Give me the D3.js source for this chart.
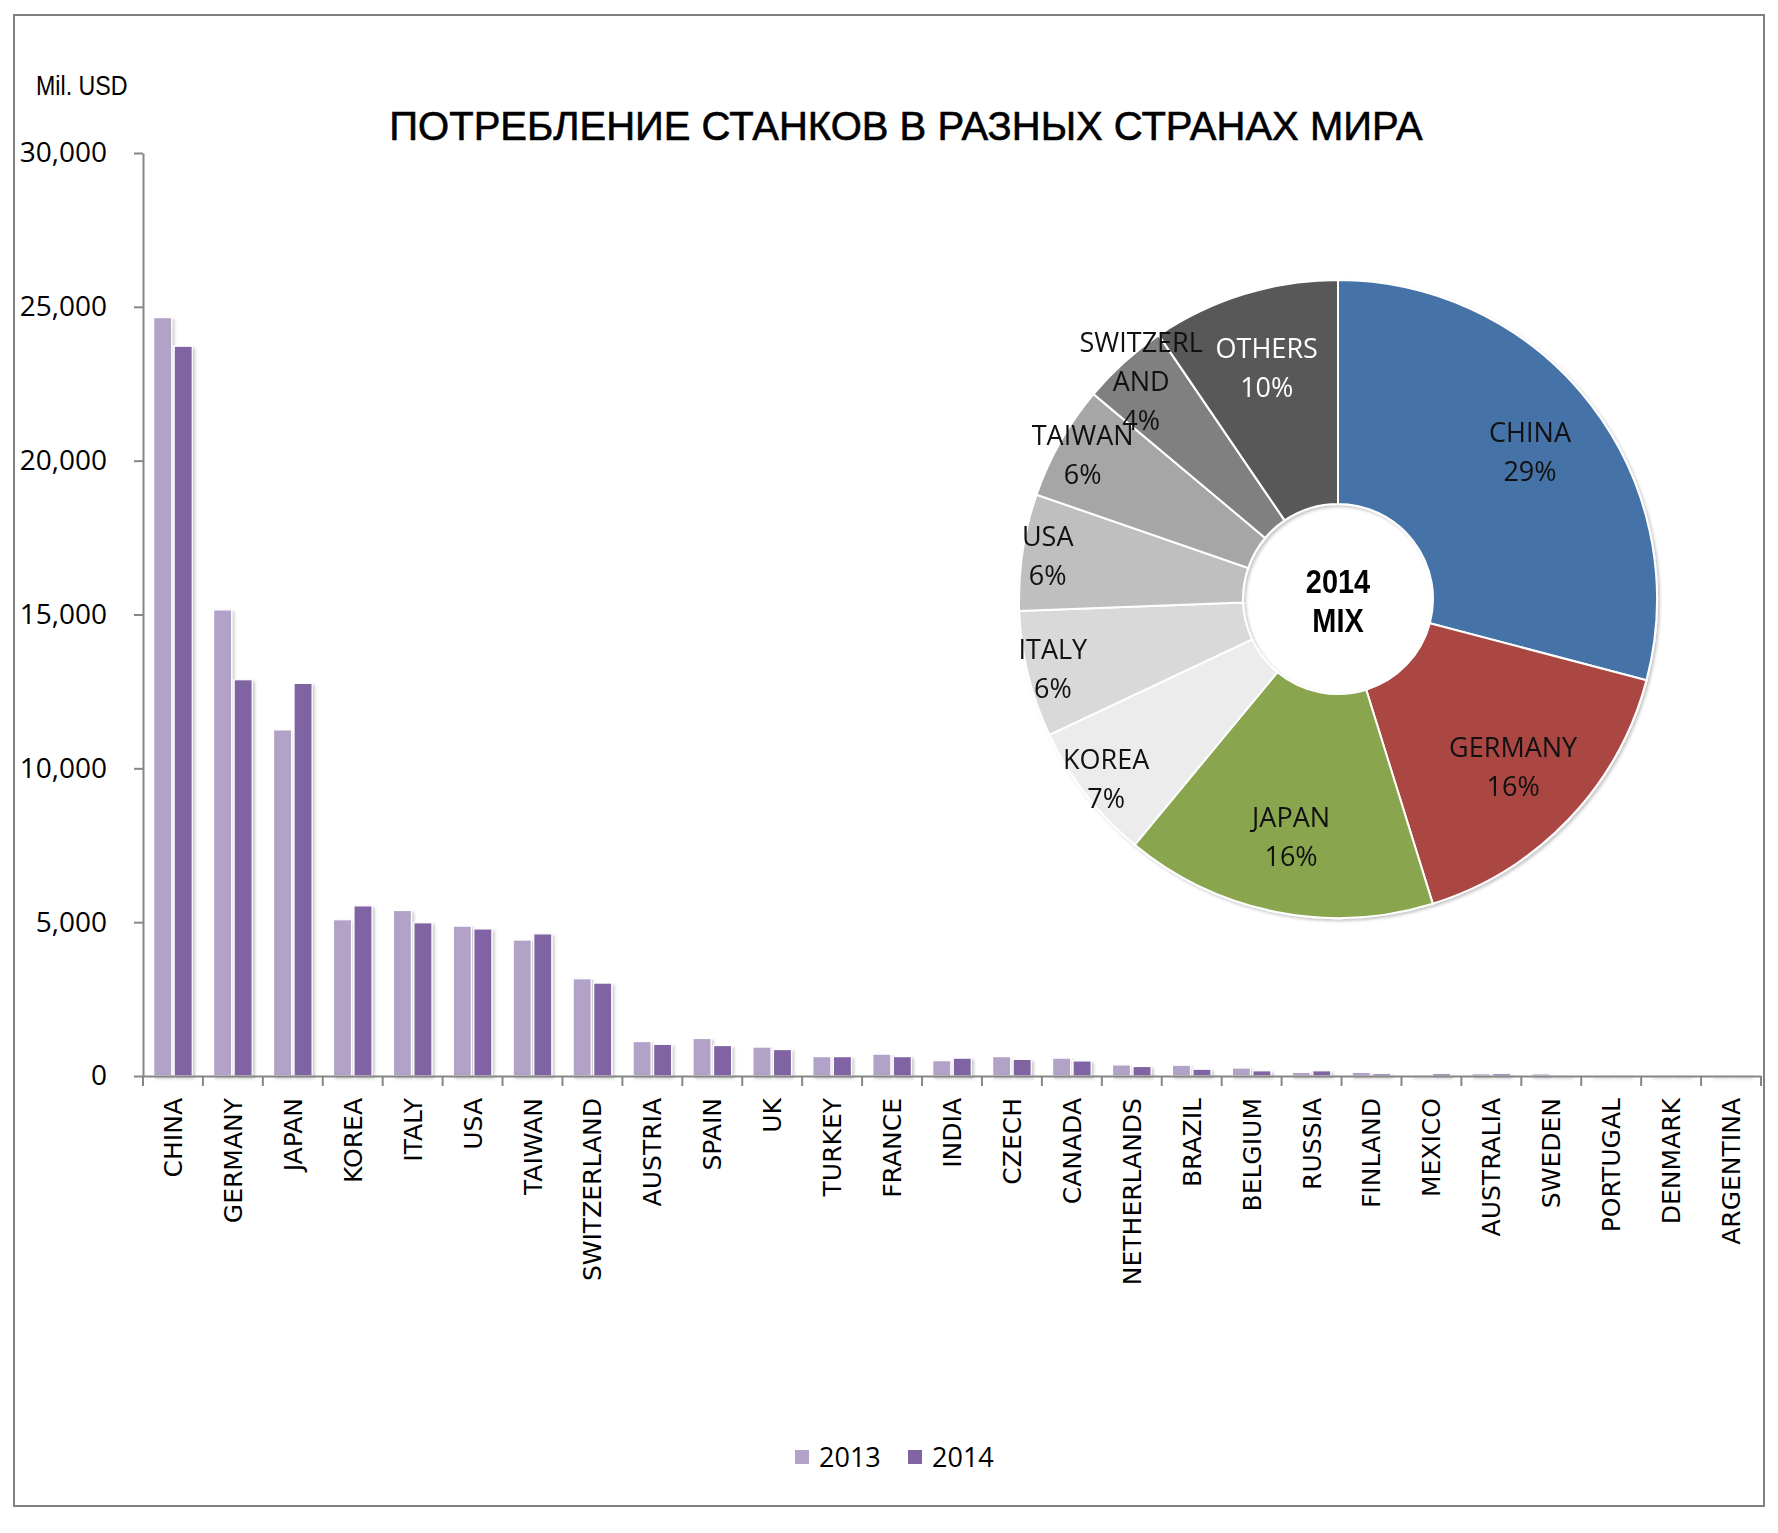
<!DOCTYPE html>
<html lang="ru">
<head>
<meta charset="UTF-8">
<title>Потребление станков в разных странах мира</title>
<script src="https://cdn.jsdelivr.net/npm/d3@7"></script>
<style>
  body { margin: 0; background: #fff; }
  .tick text { fill: #000; }
</style>
</head>
<body>
<div id="chart"></div>
<script>
var countries = ["CHINA", "GERMANY", "JAPAN", "KOREA", "ITALY", "USA", "TAIWAN", "SWITZERLAND",
  "AUSTRIA", "SPAIN", "UK", "TURKEY", "FRANCE", "INDIA", "CZECH", "CANADA", "NETHERLANDS",
  "BRAZIL", "BELGIUM", "RUSSIA", "FINLAND", "MEXICO", "AUSTRALIA", "SWEDEN", "PORTUGAL",
  "DENMARK", "ARGENTINA"];
var values2013 = [24650, 15150, 11250, 5080, 5380, 4870, 4420, 3160,
  1120, 1220, 940, 630, 710, 500, 630, 580, 360,
  350, 260, 120, 120, 15, 75, 70, 10, 5, 5];
var values2014 = [23720, 12880, 12760, 5530, 4980, 4780, 4620, 3020,
  1030, 990, 860, 630, 630, 580, 540, 490, 310,
  220, 170, 170, 75, 75, 75, 15, 5, 5, 5];
var years = ["2013", "2014"];
var yTicks = [0, 5000, 10000, 15000, 20000, 25000, 30000];

var pieNames = ["CHINA", "GERMANY", "JAPAN", "KOREA", "ITALY", "USA", "TAIWAN", "SWITZERLAND", "OTHERS"];
var pieShares = [29.1, 16.1, 15.8, 7.0, 6.4, 5.9, 5.8, 4.4, 9.5];

var width = 1778, height = 1533;
var barColors = {"2013": "#b3a2c7", "2014": "#8064a2"};
var pieColors = ["#4572a7", "#aa4643", "#89a54e", "#ececec", "#d9d9d9", "#bfbfbf", "#a6a6a6", "#808080", "#595959"];

var svg = d3.select("#chart").append("svg")
  .attr("width", width)
  .attr("height", height);

var defs = svg.append("defs");
defs.append("filter").attr("id", "shadow")
  .attr("x", "-20%").attr("y", "-20%").attr("width", "140%").attr("height", "140%")
  .append("feDropShadow")
  .attr("dx", 2).attr("dy", 2).attr("stdDeviation", 1.5)
  .attr("flood-color", "#000").attr("flood-opacity", 0.22);

// outer frame
svg.append("rect")
  .attr("x", 14).attr("y", 15).attr("width", 1750).attr("height", 1491)
  .attr("fill", "none").attr("stroke", "#808080").attr("stroke-width", 2);

var plot = {left: 143, right: 1761, top: 153, bottom: 1076};

var x = d3.scaleBand().domain(countries).range([plot.left, plot.right]);
var x1 = d3.scaleBand().domain(years).range([0, x.bandwidth()])
  .paddingInner(0.12).paddingOuter(0.52);
var y = d3.scaleLinear().domain([0, 30000]).range([plot.bottom, plot.top]);

// bars
var rows = countries.map(function(c, i) {
  return {country: c, values: [{year: "2013", v: values2013[i]}, {year: "2014", v: values2014[i]}]};
});

var groups = svg.append("g").attr("filter", "url(#shadow)")
  .selectAll("g").data(rows).join("g")
  .attr("transform", function(d) { return "translate(" + x(d.country) + ",0)"; });

groups.selectAll("rect").data(function(d) { return d.values; }).join("rect")
  .attr("x", function(d) { return x1(d.year); })
  .attr("y", function(d) { return y(d.v); })
  .attr("width", x1.bandwidth())
  .attr("height", function(d) { return y(0) - y(d.v); })
  .attr("fill", function(d) { return barColors[d.year]; })
  .attr("stroke", "#fff")
  .attr("stroke-width", 1.2);

// y axis
var yAxis = svg.append("g")
  .attr("transform", "translate(" + plot.left + ",0)")
  .call(d3.axisLeft(y).tickValues(yTicks).tickFormat(d3.format(","))
    .tickSize(9).tickSizeOuter(0).tickPadding(27));
yAxis.selectAll("path, line").attr("stroke", "#868686").attr("stroke-width", 2);
yAxis.selectAll("text")
  .style("font-family", "'Open Sans', sans-serif")
  .style("font-size", "28px");

// x axis
var xAxis = svg.append("g")
  .attr("transform", "translate(0," + plot.bottom + ")")
  .call(d3.axisBottom(x).tickSize(0).tickSizeOuter(0));
xAxis.select("path").attr("stroke", "#868686").attr("stroke-width", 2);
xAxis.selectAll("text")
  .attr("transform", "rotate(-90)")
  .attr("x", -22)
  .attr("y", 0)
  .attr("dy", "0.36em")
  .style("text-anchor", "end")
  .style("font-family", "'DejaVu Sans', sans-serif")
  .style("font-size", "25px");

// category boundary ticks
var bounds = countries.map(function(c) { return x(c); }).concat([plot.right]);
svg.append("g").selectAll("line").data(bounds).join("line")
  .attr("x1", function(d) { return d; }).attr("x2", function(d) { return d; })
  .attr("y1", plot.bottom).attr("y2", plot.bottom + 10)
  .attr("stroke", "#868686").attr("stroke-width", 2);

// unit label and title (narrow font imitated with a horizontal squeeze)
svg.append("text")
  .attr("transform", "translate(36,95) scale(0.86,1)")
  .style("font-family", "'Liberation Sans', sans-serif")
  .style("font-size", "27px")
  .text("Mil. USD");

svg.append("text")
  .attr("x", 906).attr("y", 140)
  .attr("text-anchor", "middle")
  .attr("stroke", "#000").attr("stroke-width", 0.6)
  .style("font-family", "'Liberation Sans', Arial, sans-serif")
  .style("font-size", "40px")
  .text("ПОТРЕБЛЕНИЕ СТАНКОВ В РАЗНЫХ СТРАНАХ МИРА");

// legend
var legend = svg.append("g").attr("transform", "translate(795,1457)");
var li = legend.selectAll("g").data(years).join("g")
  .attr("transform", function(d, i) { return "translate(" + (i * 113) + ",0)"; });
li.append("rect")
  .attr("x", 0).attr("y", -7).attr("width", 14).attr("height", 14)
  .attr("fill", function(d) { return barColors[d]; });
li.append("text")
  .attr("x", 24).attr("y", 10)
  .style("font-family", "'Open Sans', sans-serif")
  .style("font-size", "27px")
  .text(function(d) { return d; });

// donut
var cx = 1338, cy = 599, R = 319, r0 = 95;
var pieData = pieNames.map(function(n, i) { return {name: n, share: pieShares[i], color: pieColors[i]}; });
var pie = d3.pie().sort(null).value(function(d) { return d.share; });
var arc = d3.arc().innerRadius(r0).outerRadius(R);
var arcs = pie(pieData);

var donut = svg.append("g").attr("transform", "translate(" + cx + "," + cy + ")");
donut.append("g").attr("filter", "url(#shadow)")
  .selectAll("path").data(arcs).join("path")
  .attr("d", arc)
  .attr("fill", function(d) { return d.data.color; })
  .attr("stroke", "#fff")
  .attr("stroke-width", 2);

var labelsG = donut.append("g")
  .style("font-family", "'Open Sans', sans-serif")
  .style("font-size", "27px")
  .attr("text-anchor", "middle");

arcs.forEach(function(d) {
  var lr = d.data.share >= 9.5 ? R * 0.76 : R * 0.92;
  var pos = d3.arc().innerRadius(lr).outerRadius(lr).centroid(d);
  var name = d.data.name;
  var lines = name.length > 8 ? [name.slice(0, 8), name.slice(8)] : [name];
  lines.push(Math.round(d.data.share) + "%");
  var lh = 39;
  var t = labelsG.append("text")
    .attr("fill", d.data.name === "OTHERS" ? "#fff" : "#111");
  lines.forEach(function(s, k) {
    t.append("tspan")
      .attr("x", pos[0])
      .attr("y", pos[1] + (k - (lines.length - 1) / 2) * lh + 10)
      .text(s);
  });
});

var center = donut.append("text")
  .attr("transform", "scale(0.85,1)")
  .attr("text-anchor", "middle")
  .style("font-family", "'Liberation Sans', sans-serif")
  .style("font-weight", "bold")
  .style("font-size", "34px");
center.append("tspan").attr("x", 0).attr("y", -6).text("2014");
center.append("tspan").attr("x", 0).attr("y", 33).text("MIX");
</script>
</body>
</html>
